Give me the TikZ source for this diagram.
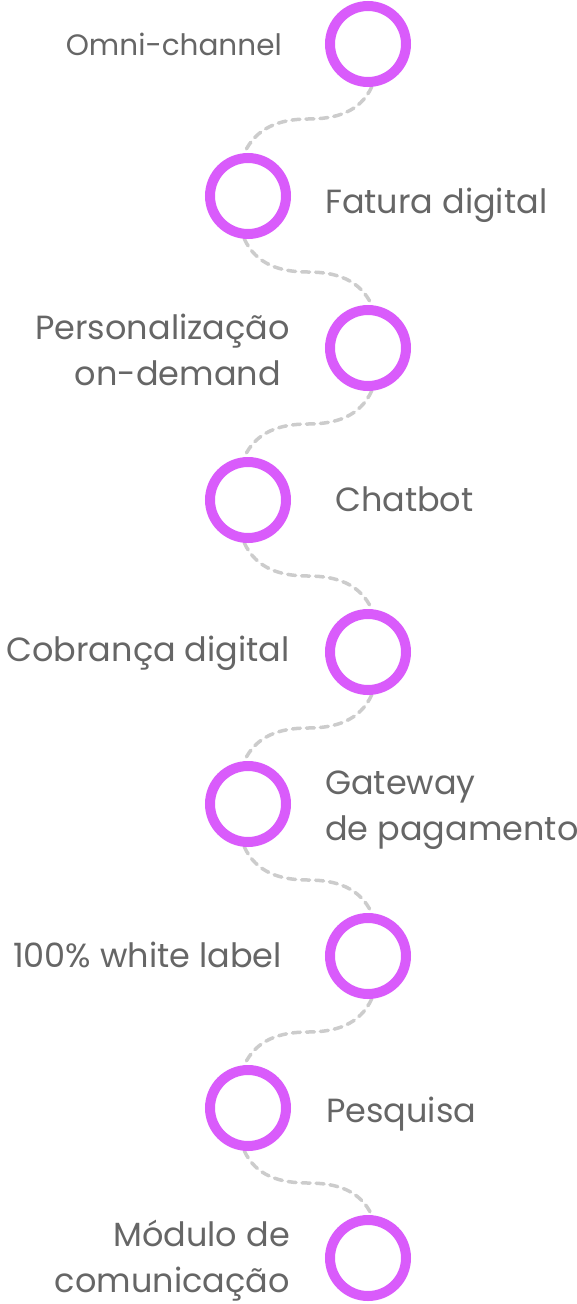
\documentclass[tikz,border=0pt]{standalone}
\usepackage{fontspec}
\setmainfont{Poppins}
\usetikzlibrary{positioning,backgrounds}
\definecolor{ringpink}{HTML}{D95BFB}
\definecolor{labelgray}{HTML}{666666}
\definecolor{dashgray}{HTML}{CCCCCC}
\tikzstyle{ring} = [circle, minimum size=76pt, line width=10pt, draw=ringpink, inner sep=0pt]
\tikzstyle{lab} = [text=labelgray, inner sep=0pt, font=\fontsize{33.5}{46}\selectfont]
\tikzstyle{labl} = [lab, align=right]
\tikzstyle{labr} = [lab, align=left]
\tikzstyle{wave} = [draw=dashgray, line width=3.5pt, dash pattern=on 8pt off 6pt, line cap=round]

\begin{document}
\begin{tikzpicture}[x=1pt, y=-1pt]
\useasboundingbox (0,0) rectangle (577,1304);
%圆环
\node (c1) [ring] at (368,44) {};
\node (c2) [ring] at (248,196) {};
\node (c3) [ring] at (368,348) {};
\node (c4) [ring] at (248,500) {};
\node (c5) [ring] at (368,652) {};
\node (c6) [ring] at (248,804) {};
\node (c7) [ring] at (368,956) {};
\node (c8) [ring] at (248,1108) {};
\node (c9) [ring] at (368,1258) {};

%文字
\node (t1) [labl, font=\fontsize{29.5}{40}\selectfont, left=43pt of c1, anchor=base east, yshift=-11pt] {Omni-channel};
\node (t2) [labr, right=34pt of c2, anchor=base west, yshift=-17pt] {Fatura digital};
\node (t3) [labl, left=35pt of c3, anchor=base east, yshift=-37pt] {Personalização\\on-demand\hspace*{9pt}};
\node (t4) [labr, right=44pt of c4, anchor=base west, yshift=-11pt] {Chatbot};
\node (t5) [labl, left=35pt of c5, anchor=base east, yshift=-9pt] {Cobrança digital};
\node (t6) [labr, right=34pt of c6, anchor=base west, yshift=-36pt] {Gateway\\de pagamento};
\node (t7) [labl, left=43pt of c7, anchor=base east, yshift=-11pt] {100\% white label};
\node (t8) [labr, right=35pt of c8, anchor=base west, yshift=-14pt] {Pesquisa};
\node (t9) [labl, left=35pt of c9, anchor=base east, yshift=-34pt] {Módulo de\\comunicação};

%虚线连接
\begin{scope}[on background layer]
\draw [wave] (c1.-85) to[out=-115, in=0] (308,119) to[out=180, in=65] (c2.95);
\draw [wave] (c2.-95) to[out=-65, in=180] (308,272) to[out=0, in=115] (c3.85);
\draw [wave] (c3.-85) to[out=-115, in=0] (308,424) to[out=180, in=65] (c4.95);
\draw [wave] (c4.-95) to[out=-65, in=180] (308,576) to[out=0, in=115] (c5.85);
\draw [wave] (c5.-85) to[out=-115, in=0] (308,728) to[out=180, in=65] (c6.95);
\draw [wave] (c6.-95) to[out=-65, in=180] (308,880) to[out=0, in=115] (c7.85);
\draw [wave] (c7.-85) to[out=-115, in=0] (308,1032) to[out=180, in=65] (c8.95);
\draw [wave] (c8.-95) to[out=-65, in=180] (308,1183) to[out=0, in=115] (c9.85);
\end{scope}
\end{tikzpicture}
\end{document}
